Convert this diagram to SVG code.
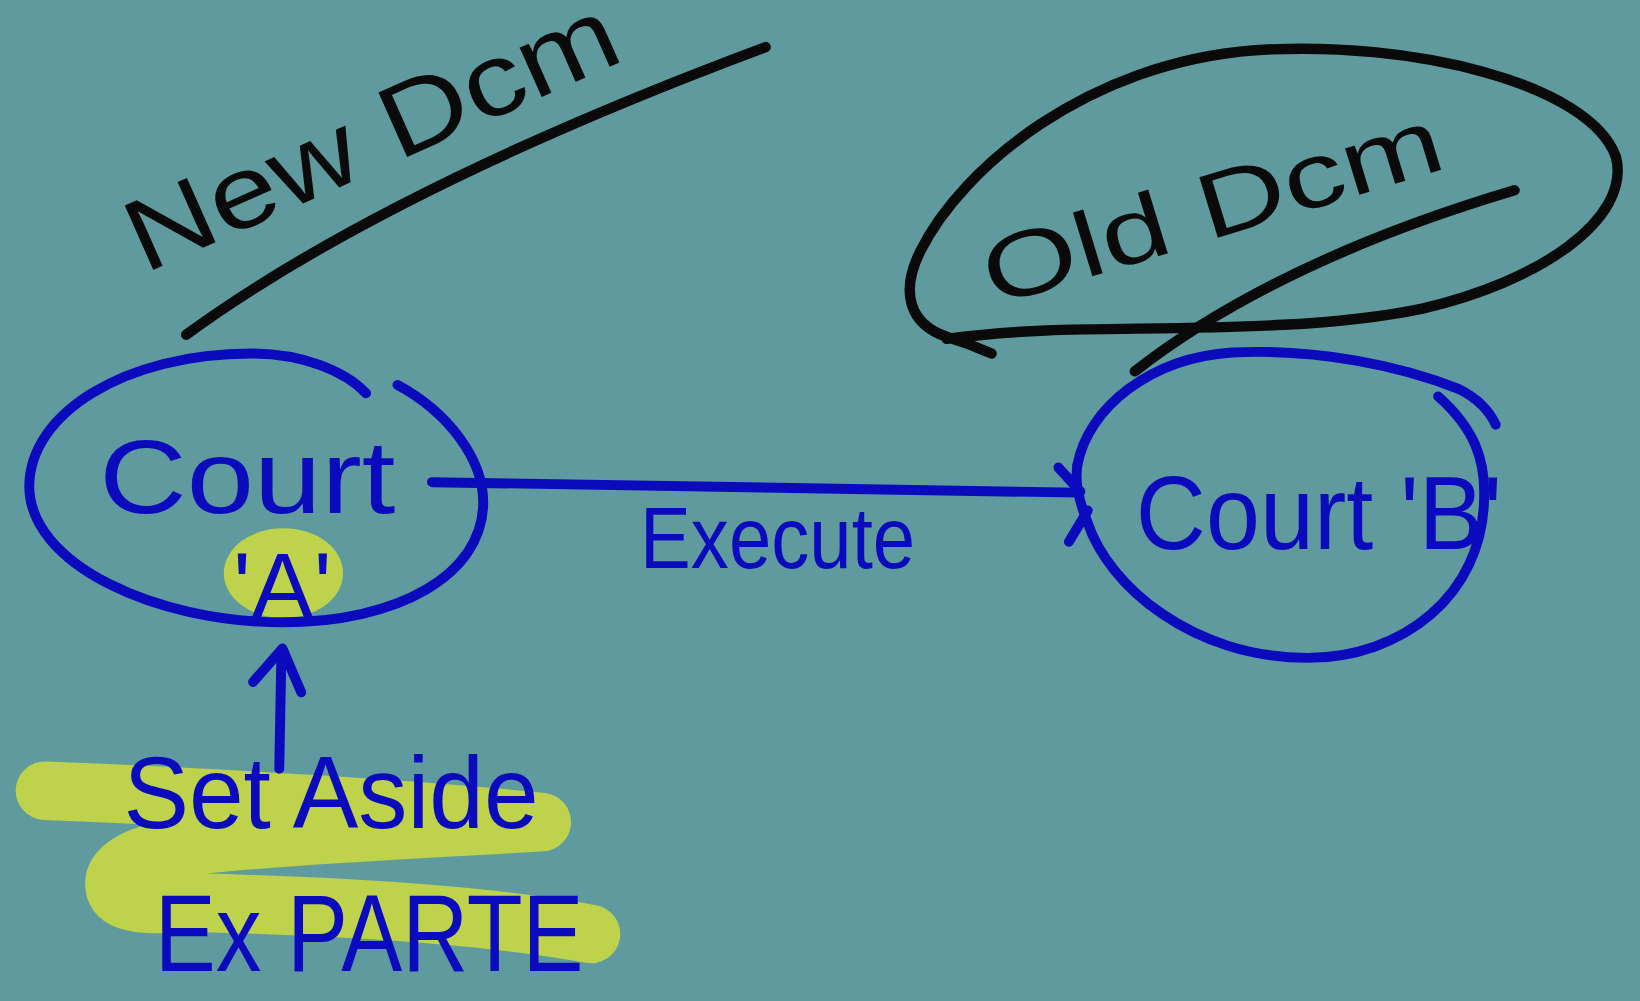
<svg xmlns="http://www.w3.org/2000/svg" width="1640" height="1001" viewBox="0 0 1640 1001">
<style>
.ink{fill:none;stroke-linecap:round;stroke-linejoin:round}
.blk{stroke:#0a0a0a;stroke-width:10}
.blu{stroke:#0b0bbd;stroke-width:9.5}
.hl{stroke:#bed24b;stroke-width:56}
.tb{font-family:"Liberation Sans","DejaVu Sans",sans-serif;fill:#0b0bbd}
.tk{font-family:"Liberation Sans","DejaVu Sans",sans-serif;fill:#0a0a0a}
</style>
<rect width="1640" height="1001" fill="#5f9b9e"/>
<g transform="scale(1.04592)">
  <g id="highlight">
    <path class="ink hl" d="M43,756 C200,762 400,774 518,786 C420,792 280,798 187,808 C130,815 105,830 110,850 C115,865 140,866 187,863 C300,866 450,872 565,893"/>
    <ellipse cx="271" cy="548" rx="57" ry="43" fill="#bed24b"/>
  </g>
  <g id="new-decree">
    <path class="ink blk" d="M178,320 Q370,180 732,45"/>
    <text class="tk" x="138" y="262" font-size="98" textLength="505" lengthAdjust="spacingAndGlyphs" transform="rotate(-24 138 262)">New Dcm</text>
  </g>
  <g id="old-decree">
    <path class="ink blk" d="M948,338 C930,330 915,325 905,322 C870,310 860,280 880,240 C920,160 1040,60 1200,48 C1350,38 1520,80 1545,150 C1560,210 1470,270 1360,295 C1250,318 1100,312 1000,316 C950,318 920,322 905,324"/>
    <path class="ink blk" d="M1448,182 Q1220,250 1085,355"/>
    <text class="tk" x="950" y="293" font-size="88" textLength="455" lengthAdjust="spacingAndGlyphs" transform="rotate(-17 950 293)">Old Dcm</text>
  </g>
  <g id="court-a">
    <path class="ink blu" d="M380,368 C430,395 462,440 462,480 C462,550 380,595 270,595 C150,595 28,540 28,465 C28,395 120,338 240,338 C290,338 330,355 350,376"/>
    <text class="tb" x="95" y="490" font-size="100" textLength="283" lengthAdjust="spacingAndGlyphs">Court</text>
    <text class="tb" x="270" y="592" font-size="90" text-anchor="middle">'A'</text>
  </g>
  <g id="court-b">
    <path class="ink blu" d="M1030,445 C1040,390 1100,342 1178,337 C1260,333 1340,350 1395,372 C1415,382 1425,395 1430,406"/>
    <path class="ink blu" d="M1375,379 C1410,410 1420,440 1419,475 C1418,570 1340,629 1250,629 C1140,629 1060,560 1040,500 C1030,475 1028,460 1030,445"/>
    <text class="tb" x="1086" y="525" font-size="100" textLength="350" lengthAdjust="spacingAndGlyphs">Court 'B'</text>
  </g>
  <g id="set-aside">
    <text class="tb" x="118" y="792" font-size="98" textLength="397" lengthAdjust="spacingAndGlyphs">Set Aside</text>
    <text class="tb" x="148" y="928" font-size="105" textLength="410" lengthAdjust="spacingAndGlyphs">Ex PARTE</text>
  </g>
  <g id="connectors">
    <path class="ink blu" d="M413,461 L1030,471"/>
    <path class="ink blu" d="M1012,447 L1033,470 M1022,518 L1040,488"/>
    <path class="ink blu" d="M267,735 L269,628"/>
    <path class="ink blu" d="M242,652 L270,620 L288,662"/>
    <text class="tb" x="612" y="543" font-size="84" textLength="263" lengthAdjust="spacingAndGlyphs">Execute</text>
  </g>
</g>
</svg>
